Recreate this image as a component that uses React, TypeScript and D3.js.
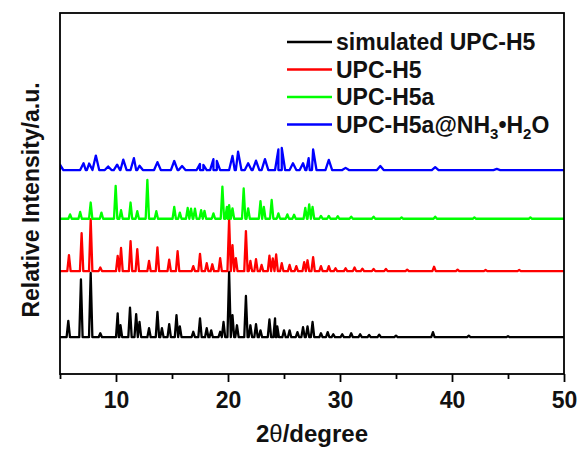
import React, { useRef, useEffect } from 'react'
import * as d3 from 'd3'

// peaks: [2theta (degree), height above its own baseline (a.u.)]
const simulatedPeaks: [number, number][] = [
  [5.74, 4.5], [6.87, 16.0], [7.74, 17.8], [8.6, 1.1], [10.15, 6.6], [10.4, 3.3],
  [11.25, 8.2], [11.8, 6.4], [12.1, 4.2], [12.95, 2.5], [13.7, 7.0], [14.1, 2.5],
  [14.75, 3.6], [15.4, 6.1], [15.7, 3.0], [16.9, 1.5], [17.5, 5.2], [18.1, 2.5],
  [18.5, 1.9], [19.3, 1.5], [19.6, 4.2], [20.1, 18.1], [20.4, 6.1], [20.8, 3.3],
  [21.6, 11.4], [22.0, 3.3], [22.5, 3.6], [22.9, 1.9], [23.7, 4.9], [24.2, 5.2],
  [24.4, 3.0], [25.0, 1.9], [25.5, 1.9], [26.2, 1.4], [26.7, 2.8], [27.1, 3.0],
  [27.55, 4.2], [28.3, 1.1], [28.9, 1.4], [29.4, 0.8], [30.2, 0.8], [31.0, 1.1],
  [31.8, 0.8], [32.6, 0.6], [33.5, 0.7], [35.0, 0.4], [38.3, 1.4], [41.5, 0.4], [45.0, 0.3]
]

const upcH5Peaks: [number, number][] = [
  [5.8, 4.4], [6.93, 10.5], [7.74, 14.4], [8.6, 1.0], [10.15, 4.2], [10.45, 6.4],
  [11.3, 8.3], [11.9, 6.1], [12.95, 2.8], [13.7, 6.6], [14.75, 3.2], [15.5, 5.5],
  [16.9, 1.4], [17.5, 4.8], [18.1, 2.2], [18.6, 1.9], [19.3, 3.6], [20.1, 14.4],
  [20.4, 7.2], [20.7, 3.6], [21.6, 11.1], [22.0, 2.8], [22.5, 3.3], [23.0, 1.7],
  [23.7, 4.3], [24.0, 3.5], [24.3, 4.6], [24.8, 2.2], [25.5, 1.7], [26.1, 1.4],
  [26.8, 2.5], [27.1, 3.0], [27.6, 3.9], [28.3, 1.4], [29.0, 1.4], [29.6, 0.8],
  [30.5, 0.8], [31.3, 1.0], [32.0, 0.7], [33.0, 0.6], [34.1, 0.6], [36.0, 0.4],
  [38.4, 1.2], [40.5, 0.4], [43.0, 0.3], [46.0, 0.3]
]

const upcH5aPeaks: [number, number][] = [
  [5.9, 1.2], [6.8, 1.9], [7.74, 4.5], [8.7, 1.7], [9.97, 9.1], [10.45, 2.4],
  [11.3, 4.5], [11.9, 2.1], [12.8, 10.8], [13.6, 2.1], [15.2, 3.3], [15.7, 1.7],
  [16.4, 3.0], [16.7, 2.8], [17.05, 2.8], [17.6, 2.4], [17.9, 2.2], [18.7, 1.5],
  [19.5, 8.9], [19.9, 3.3], [20.1, 3.8], [20.4, 2.9], [21.4, 8.4], [21.8, 2.9],
  [22.9, 4.9], [23.2, 3.3], [23.9, 5.2], [24.5, 1.5], [25.3, 1.2], [25.9, 1.1],
  [26.9, 3.0], [27.25, 4.0], [27.55, 3.3], [28.3, 0.8], [29.0, 0.8], [29.8, 0.7],
  [31.0, 0.6], [33.0, 0.6], [35.5, 0.4], [38.5, 0.6], [42.0, 0.4], [47.0, 0.4]
]

const upcH5aNH3Peaks: [number, number][] = [
  [5.0, 1.5], [7.1, 1.9], [7.6, 1.8], [8.2, 4.0], [9.3, 1.0], [10.1, 1.5],
  [10.65, 2.9], [11.6, 3.3], [12.1, 1.2], [13.7, 2.2], [15.2, 2.5], [15.9, 1.1],
  [17.5, 1.7], [17.8, 1.4], [18.7, 3.0], [19.0, 2.5], [20.4, 3.9], [20.9, 5.1],
  [21.8, 1.9], [22.5, 2.6], [23.3, 3.0], [24.5, 5.7], [24.8, 6.1], [25.8, 1.9],
  [26.7, 1.9], [27.2, 3.3], [27.6, 5.7], [29.0, 2.8], [30.5, 0.6], [33.6, 1.1],
  [38.5, 0.8], [44.0, 0.3]
]

const seriesNames = ['simulated UPC-H5', 'UPC-H5', 'UPC-H5a', 'UPC-H5a@NH3•H2O']
const seriesPeaks = [simulatedPeaks, upcH5Peaks, upcH5aPeaks, upcH5aNH3Peaks]
const seriesOffsets = [10.2, 28.5, 43.0, 56.5]
const seriesColors = ['#000000', '#ff0000', '#00ff00', '#0000ff']
const peakWidths = [0.15, 0.15, 0.15, 0.3]

const majorTicks = [10, 20, 30, 40, 50]
const minorTicks = [5, 15, 25, 35, 45]

const W = 583
const H = 450
const margin = { top: 13, right: 19, bottom: 76, left: 60 }
const font = "'Liberation Sans', Arial, sans-serif"

function buildTrace(peaks: [number, number][], w: number) {
  const pts: [number, number][] = [[5, 0]]
  peaks.forEach(([p, h]) => {
    pts.push([p - w, 0], [p, h], [p + w, 0])
  })
  pts.push([50, 0])
  return pts.sort((a, b) => a[0] - b[0])
}

export default function App() {
  const ref = useRef<SVGSVGElement>(null)

  useEffect(() => {
    const svg = d3.select(ref.current)
    svg.selectAll('*').remove()

    const x = d3.scaleLinear().domain([5, 50]).range([margin.left, W - margin.right])
    const y = d3.scaleLinear().domain([0, 100]).range([H - margin.bottom, margin.top])

    svg.append('clipPath').attr('id', 'plotclip')
      .append('rect')
      .attr('x', margin.left).attr('y', margin.top)
      .attr('width', W - margin.left - margin.right)
      .attr('height', H - margin.top - margin.bottom)

    const g = svg.append('g').attr('clip-path', 'url(#plotclip)')

    seriesPeaks.forEach((peaks, i) => {
      const line = d3.line<[number, number]>()
        .x(d => x(d[0]))
        .y(d => y(d[1] + seriesOffsets[i]))
      g.append('path')
        .attr('d', line(buildTrace(peaks, peakWidths[i])))
        .attr('fill', 'none')
        .attr('stroke', seriesColors[i])
        .attr('stroke-width', 2.3)
        .attr('stroke-linejoin', 'round')
    })

    // frame
    svg.append('rect')
      .attr('x', margin.left).attr('y', margin.top)
      .attr('width', W - margin.left - margin.right)
      .attr('height', H - margin.top - margin.bottom)
      .attr('fill', 'none').attr('stroke', '#000').attr('stroke-width', 1.8)

    // x axis
    const xAxis = svg.append('g')
      .attr('transform', 'translate(0,' + (H - margin.bottom) + ')')
      .call(d3.axisBottom(x).tickValues(majorTicks).tickSize(8).tickPadding(10).tickFormat(d3.format('d')))
    xAxis.select('.domain').remove()
    xAxis.selectAll('line').attr('stroke-width', 1.8)
    xAxis.selectAll('text')
      .style('font-family', font).style('font-weight', 'bold').style('font-size', '23px')
      .attr('fill', '#111')

    const xMinor = svg.append('g')
      .attr('transform', 'translate(0,' + (H - margin.bottom) + ')')
      .call(d3.axisBottom(x).tickValues(minorTicks).tickSize(5).tickFormat(() => ''))
    xMinor.select('.domain').remove()
    xMinor.selectAll('line').attr('stroke-width', 1.8)

    // axis titles
    const title = svg.append('text')
      .attr('x', (margin.left + W - margin.right) / 2)
      .attr('y', 442)
      .attr('text-anchor', 'middle')
      .style('font-family', font).style('font-weight', 'bold').style('font-size', '24px')
      .attr('fill', '#111')
    title.append('tspan').text('2')
    title.append('tspan').text('θ').style('font-weight', 'normal')
    title.append('tspan').text('/degree')

    svg.append('text')
      .attr('transform', 'translate(39,200) rotate(-90)')
      .attr('text-anchor', 'middle')
      .style('font-family', font).style('font-weight', 'bold').style('font-size', '23px')
      .attr('fill', '#111')
      .text('Relative Intensity/a.u.')

    // legend
    const legend = svg.append('g')
    seriesNames.forEach((name, i) => {
      const yy = 50 + i * 27.5
      legend.append('line')
        .attr('x1', 287).attr('x2', 332)
        .attr('y1', yy - 8).attr('y2', yy - 8)
        .attr('stroke', seriesColors[i]).attr('stroke-width', 2.3)
      const t = legend.append('text')
        .attr('x', 336).attr('y', yy)
        .style('font-family', font).style('font-weight', 'bold').style('font-size', '23px')
        .attr('fill', '#111')
      if (i === 3) {
        t.append('tspan').text('UPC-H5a@NH')
        t.append('tspan').text('3').attr('dy', 6).style('font-size', '15px')
        t.append('tspan').text('•H').attr('dy', -6)
        t.append('tspan').text('2').attr('dy', 6).style('font-size', '15px')
        t.append('tspan').text('O').attr('dy', -6)
      } else {
        t.text(name)
      }
    })
  }, [])

  return (
    <svg
      ref={ref}
      width={W}
      height={H}
      style={{ position: 'absolute', left: 0, top: 0, background: '#fff' }}
    />
  )
}
